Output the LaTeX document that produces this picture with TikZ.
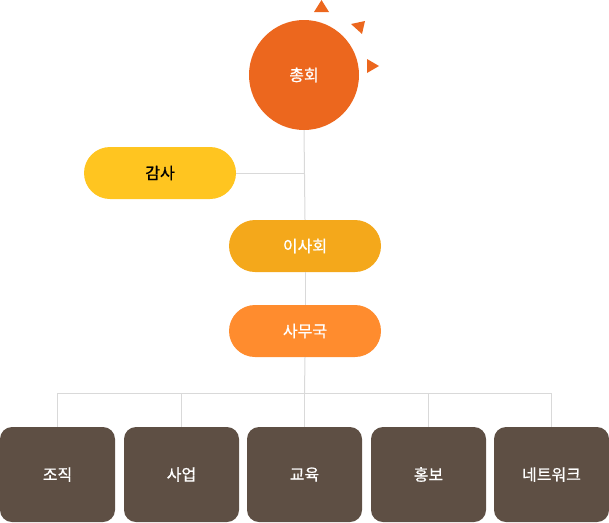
\documentclass[tikz,border=0pt]{standalone}
\usepackage{fontspec}
\setmainfont[FakeBold=0.8]{Noto Sans CJK KR}
\definecolor{sun}{HTML}{EC671E}
\definecolor{audit}{HTML}{FFC520}
\definecolor{board}{HTML}{F4A81B}
\definecolor{office}{HTML}{FF8C2E}
\definecolor{team}{HTML}{5E4F44}
\definecolor{wire}{HTML}{D9D9D9}
\begin{document}
\begin{tikzpicture} [x = 1pt, y = -1pt,
	pill/.style = {rounded corners = 26pt, minimum width = 152pt, minimum height = 52pt, inner sep = 0pt, font = \fontsize{16}{19}\selectfont},
	teambox/.style = {fill = team, text = white, rounded corners = 12pt, minimum width = 115pt, minimum height = 95pt, inner sep = 0pt, font = \fontsize{16}{19}\selectfont},
	wire/.style = {draw = wire, line width = 1pt}]
	\useasboundingbox (0,0) rectangle (609,522);
	\node [circle, fill = sun, text = white, minimum size = 110pt, inner sep = 0pt, font = \fontsize{16}{19}\selectfont] (chong) at (304,75) {총회};
	\node [pill, fill = audit, text = black] (gamsa) at (160,173) {감사};
	\node [pill, fill = board, text = white] (isa) at (305,246) {이사회};
	\node [pill, fill = office, text = white] (samu) at (305,331) {사무국};
	\node [teambox] (jojik) at (57.5,474.5) {조직};
	\node [teambox] (saeop) at (181.5,474.5) {사업};
	\node [teambox] (gyoyuk) at (304.5,474.5) {교육};
	\node [teambox] (hongbo) at (428.5,474.5) {홍보};
	\node [teambox] (network) at (551.5,474.5) {네트워크};
	\coordinate (bus) at (304.5,393);
	% connectors
	\draw [wire] (chong.south) -- (isa.north);
	\draw [wire] (gamsa.east) -- (gamsa.east -| chong.south);
	\draw [wire] (isa.south) -- (samu.north);
	\draw [wire] (samu.south) -- (bus);
	\foreach \t in {jojik, saeop, gyoyuk, hongbo, network}
		\draw [wire] (bus) -| (\t.north);
	% little rays
	\fill [sun] (314,12) -- (321.5,0) -- (329,12) -- cycle;
	\fill [sun] (351,24) -- (365,21) -- (362,34) -- cycle;
	\fill [sun] (367,59) -- (379,66) -- (367,73) -- cycle;
\end{tikzpicture}
\end{document}
